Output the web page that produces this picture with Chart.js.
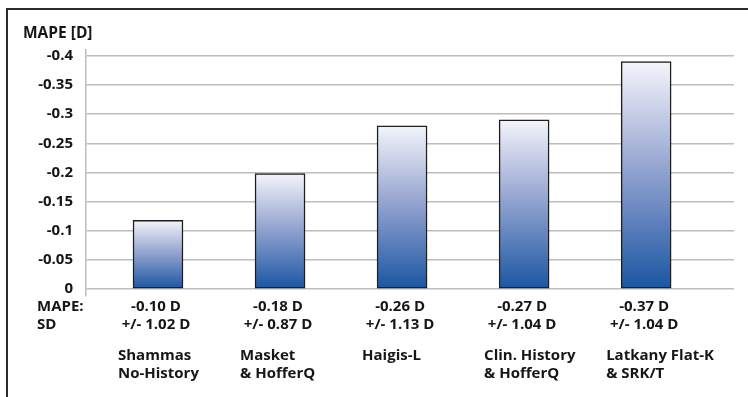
<!DOCTYPE html>
<html>
<head>
<meta charset="utf-8">
<script src="https://cdn.jsdelivr.net/npm/chart.js@4/dist/chart.umd.min.js"></script>
<style>
  html, body { margin: 0; padding: 0; background: #fff; }
  #wrap { position: relative; width: 748px; height: 397px; overflow: hidden; }
  #frame { position: absolute; left: 6px; top: 8px; width: 800px; height: 500px;
           border-left: 2px solid #2b2b2b; border-top: 2px solid #2b2b2b; pointer-events: none; }
  canvas { position: absolute; left: 0; top: 0; }
</style>
</head>
<body>
<div id="wrap">
  <canvas id="c" width="748" height="397"></canvas>
  <div id="frame"></div>
</div>
<script>
// ---- data ----
const methodNames = [
  ["Shammas", "No-History"],
  ["Masket", "& HofferQ"],
  ["Haigis-L"],
  ["Clin. History", "& HofferQ"],
  ["Latkany Flat-K", "& SRK/T"]
];
const mapeLabels = ["-0.10 D", "-0.18 D", "-0.26 D", "-0.27 D", "-0.37 D"];
const sdLabels = ["+/- 1.02 D", "+/- 0.87 D", "+/- 1.13 D", "+/- 1.04 D", "+/- 1.04 D"];
const mapeValues = [-0.118, -0.198, -0.28, -0.29, -0.39];
const yTickValues = [0, -0.05, -0.1, -0.15, -0.2, -0.25, -0.3, -0.35, -0.4];
const yTickLabels = ["0", "-0.05", "-0.1", "-0.15", "-0.2", "-0.25", "-0.3", "-0.35", "-0.4"];
const yAxisTitle = "MAPE [D]";
const rowLabels = ["MAPE:", "SD"];

const FONT = "'Open Sans', Lato, sans-serif";
const TEXT = "#161616";

const points = mapeValues.map((v, i) => ({ x: i + 1, y: v }));

function barGradient(ctx) {
  const chart = ctx.chart;
  if (!chart.chartArea || !chart.scales.y) return "#6f86c0";
  const ys = chart.scales.y;
  const v = ctx.raw && typeof ctx.raw === "object" ? ctx.raw.y : ctx.raw;
  const top = ys.getPixelForValue(v);
  const base = ys.getPixelForValue(0);
  const g = chart.ctx.createLinearGradient(0, top, 0, base);
  g.addColorStop(0, "#f4f5fb");
  g.addColorStop(0.45, "#98a7d2");
  g.addColorStop(1, "#1a55a2");
  return g;
}

const labelPlugin = {
  id: "labels",
  afterDraw(chart) {
    const c = chart.ctx;
    const xs = chart.scales.x;
    c.save();
    c.fillStyle = TEXT;
    c.textBaseline = "middle";
    c.textAlign = "left";
    c.font = "bold 15.5px " + FONT;
    c.fillText(yAxisTitle, 23, 34);
    c.font = "bold 15px " + FONT;
    c.fillText(rowLabels[0], 37, 307);
    c.fillText(rowLabels[1], 37, 325);
    for (let i = 0; i < mapeValues.length; i++) {
      const cx = xs.getPixelForValue(i + 1);
      c.textAlign = "center";
      c.fillText(mapeLabels[i], cx - 2, 307);
      c.fillText(sdLabels[i], cx - 2, 325);
      c.textAlign = "left";
      methodNames[i].forEach((ln, k) => c.fillText(ln, cx - 40, 356 + k * 17.5));
    }
    c.restore();
  }
};

new Chart(document.getElementById("c"), {
  type: "bar",
  data: {
    datasets: [{
      data: points,
      backgroundColor: barGradient,
      borderColor: "#1e1e1e",
      borderWidth: 1.5,
      borderSkipped: false,
      barThickness: 50
    }]
  },
  options: {
    responsive: false,
    animation: false,
    devicePixelRatio: 1,
    layout: { padding: { left: 0, right: 14, top: 50, bottom: 101 } },
    plugins: { legend: { display: false }, tooltip: { enabled: false }, title: { display: false } },
    scales: {
      x: {
        type: "linear",
        min: 0.41,
        max: 5.72,
        offset: false,
        display: false,
        grid: { display: false }
      },
      y: {
        reverse: true,
        min: -0.41,
        max: 0.012,
        afterBuildTicks(scale) { scale.ticks = yTickValues.map(v => ({ value: v })); },
        afterFit(scale) { scale.width = 86; },
        ticks: {
          padding: 13,
          color: TEXT,
          font: { family: FONT, size: 15, weight: "bold" },
          callback(value) {
            const i = yTickValues.findIndex(t => Math.abs(t - value) < 1e-9);
            return i >= 0 ? yTickLabels[i] : "";
          }
        },
        grid: { color: "#bdbdbd", lineWidth: 1.5, drawTicks: false },
        border: { display: true, color: "#bdbdbd", width: 1.5 }
      }
    }
  },
  plugins: [labelPlugin]
});
</script>
</body>
</html>
